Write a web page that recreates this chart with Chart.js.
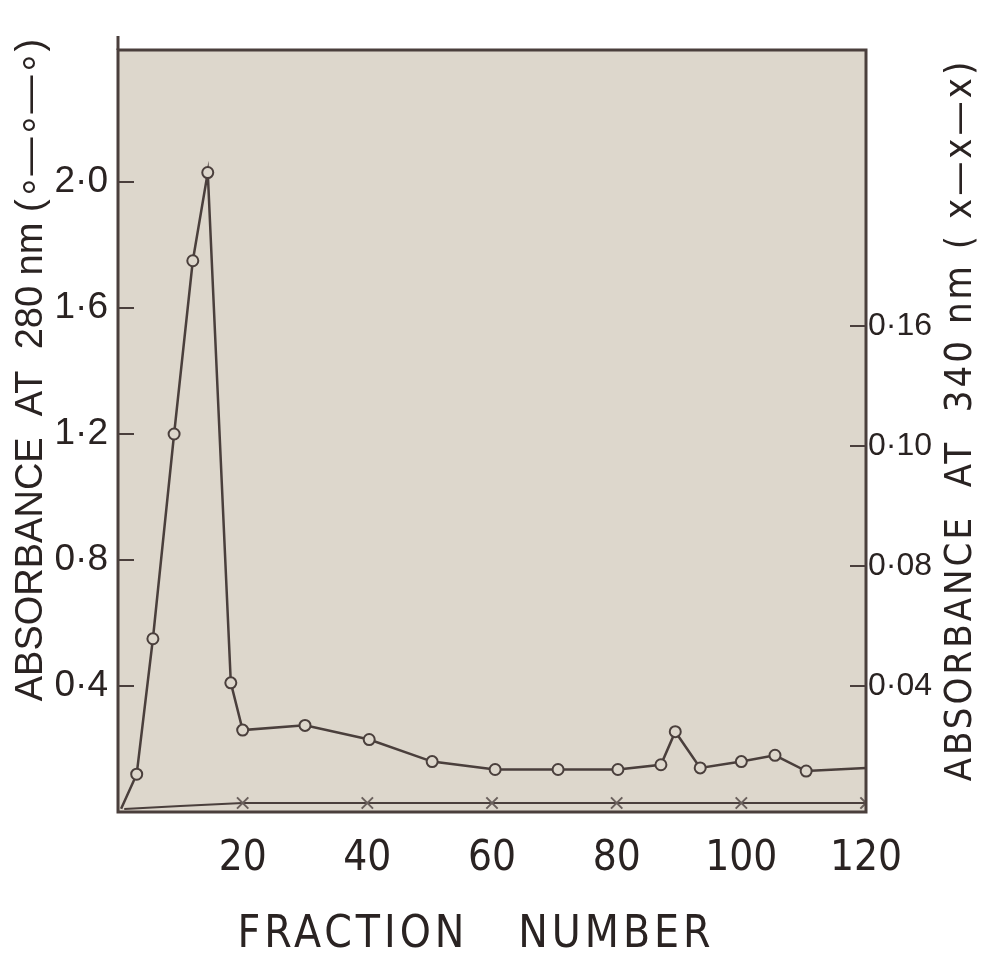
<!DOCTYPE html>
<html lang="en">
<head>
<meta charset="UTF-8">
<title>Absorbance profile</title>
<script src="https://cdn.jsdelivr.net/npm/chart.js"></script>
<style>
  body { margin: 0; background: #fff; }
  #wrap { width: 1000px; height: 953px; position: relative; }
</style>
</head>
<body>
<div id="wrap"><canvas id="myChart"></canvas></div>
<script>
// absorbance at 280 nm (open circles)
const fraction280 = [0.5, 3, 5.6, 9, 12, 14.4, 18.1, 20, 30, 40.3, 50.4, 60.5, 70.6, 80.2, 87.1, 89.4, 93.4, 100, 105.4, 110.4, 120];
const abs280 = [0.01, 0.12, 0.55, 1.2, 1.75, 2.03, 0.41, 0.26, 0.275, 0.23, 0.16, 0.135, 0.135, 0.135, 0.15, 0.255, 0.14, 0.16, 0.18, 0.13, 0.14];

// absorbance at 340 nm (crosses)
const fraction340 = [1, 10, 20, 40, 60, 80, 100, 120];
const abs340 = [-0.001, 0.0, 0.001, 0.001, 0.001, 0.001, 0.001, 0.001];

// axis ticks
const xTicks = [20, 40, 60, 80, 100, 120];
const leftTicks = [0.4, 0.8, 1.2, 1.6, 2.0];
const leftTickLabels = ['0·4', '0·8', '1·2', '1·6', '2·0'];
const rightTicks = [0.04, 0.08, 0.12, 0.16];
const rightTickLabels = ['0·04', '0·08', '0·10', '0·16'];

const ink = '#4a3f3c';
const paper = '#ddd7cc';
const narrow = "'DejaVu Sans Condensed', 'Liberation Sans Narrow', 'Liberation Sans', sans-serif";
const plain = "'Liberation Sans', Arial, sans-serif";

// background, frame, inner ticks and titles
const framePlugin = {
  id: 'frame',
  beforeDraw(chart) {
    const a = chart.chartArea, ctx = chart.ctx;
    ctx.save();
    ctx.fillStyle = paper;
    ctx.fillRect(a.left, a.top, a.right - a.left, a.bottom - a.top);
    ctx.restore();
  },
  afterDraw(chart) {
    const a = chart.chartArea, ctx = chart.ctx;
    const yL = chart.scales.y, yR = chart.scales.y2;
    ctx.save();
    ctx.strokeStyle = ink;
    ctx.lineWidth = 3;
    ctx.strokeRect(a.left, a.top, a.right - a.left, a.bottom - a.top);
    ctx.beginPath();
    ctx.moveTo(a.left, a.top); ctx.lineTo(a.left, a.top - 14);
    ctx.stroke();
    ctx.lineWidth = 2;
    ctx.beginPath();
    leftTicks.forEach(v => {
      const p = yL.getPixelForValue(v);
      ctx.moveTo(a.left, p); ctx.lineTo(a.left + 16, p);
    });
    rightTicks.forEach(v => {
      const p = yR.getPixelForValue(v);
      ctx.moveTo(a.right - 16, p); ctx.lineTo(a.right, p);
    });
    ctx.stroke();

    ctx.fillStyle = '#2a2322';
    ctx.textAlign = 'center';
    ctx.textBaseline = 'middle';
    // left title
    ctx.save();
    ctx.translate(32, 370);
    ctx.rotate(-Math.PI / 2);
    ctx.font = '38px ' + plain;
    ctx.fillText('ABSORBANCE  AT  280 nm (∘—∘—∘)', 0, 0);
    ctx.restore();
    // right title
    ctx.save();
    ctx.translate(961, 420);
    ctx.rotate(-Math.PI / 2);
    ctx.font = '38px ' + narrow;
    ctx.letterSpacing = '3px';
    ctx.fillText('ABSORBANCE  AT  340 nm ( x—x—x)', 0, 0);
    ctx.restore();
    // bottom title
    ctx.font = '44px ' + narrow;
    ctx.letterSpacing = '4px';
    ctx.fillText('FRACTION   NUMBER', 476, 936);
    ctx.restore();
  }
};

const ctx = document.getElementById('myChart').getContext('2d');
const myChart = new Chart(ctx, {
  type: 'line',
  data: {
    datasets: [
      {
        label: '280 nm',
        data: fraction280.map((x, i) => ({ x: x, y: abs280[i] })),
        yAxisID: 'y',
        borderColor: ink,
        borderWidth: 2.5,
        pointStyle: 'circle',
        pointRadius: c => (c.dataIndex === 0 || c.dataIndex === fraction280.length - 1) ? 0 : 5.5,
        pointBorderWidth: 2,
        pointBorderColor: ink,
        pointBackgroundColor: paper,
        tension: 0
      },
      {
        label: '340 nm',
        data: fraction340.map((x, i) => ({ x: x, y: abs340[i] })),
        yAxisID: 'y2',
        borderColor: ink,
        borderWidth: 2,
        pointStyle: 'crossRot',
        pointRadius: c => c.dataIndex < 2 ? 0 : 8,
        pointBorderWidth: 2,
        pointBorderColor: '#6a605c',
        tension: 0
      }
    ]
  },
  options: {
    responsive: true,
    maintainAspectRatio: false,
    animation: false,
    layout: { padding: { top: 50, left: 0, right: 0, bottom: 0 } },
    plugins: {
      legend: { display: false },
      tooltip: { enabled: false }
    },
    scales: {
      x: {
        type: 'linear',
        min: 0,
        max: 120,
        grid: { display: false, drawTicks: false },
        border: { display: false },
        afterBuildTicks: s => { s.ticks = xTicks.map(v => ({ value: v })); },
        afterFit: s => { s.height = 141; },
        ticks: {
          autoSkip: false,
          maxRotation: 0,
          padding: 22,
          color: '#2a2322',
          font: { family: narrow, size: 42 }
        }
      },
      y: {
        position: 'left',
        min: 0,
        max: 762 / 315,
        grid: { display: false, drawTicks: false },
        border: { display: false },
        afterBuildTicks: s => { s.ticks = leftTicks.map(v => ({ value: v })); },
        afterFit: s => { s.width = 118; },
        ticks: {
          autoSkip: false,
          padding: 10,
          color: '#2a2322',
          font: { family: plain, size: 37 },
          callback: (v, i) => leftTickLabels[i]
        }
      },
      y2: {
        position: 'right',
        min: -0.002,
        max: -0.002 + 762 / 3000,
        grid: { display: false, drawTicks: false },
        border: { display: false },
        afterBuildTicks: s => { s.ticks = rightTicks.map(v => ({ value: v })); },
        afterFit: s => { s.width = 134; },
        ticks: {
          autoSkip: false,
          padding: 2,
          color: '#2a2322',
          font: { family: plain, size: 32 },
          callback: (v, i) => rightTickLabels[i]
        }
      }
    }
  },
  plugins: [framePlugin]
});
</script>
</body>
</html>
